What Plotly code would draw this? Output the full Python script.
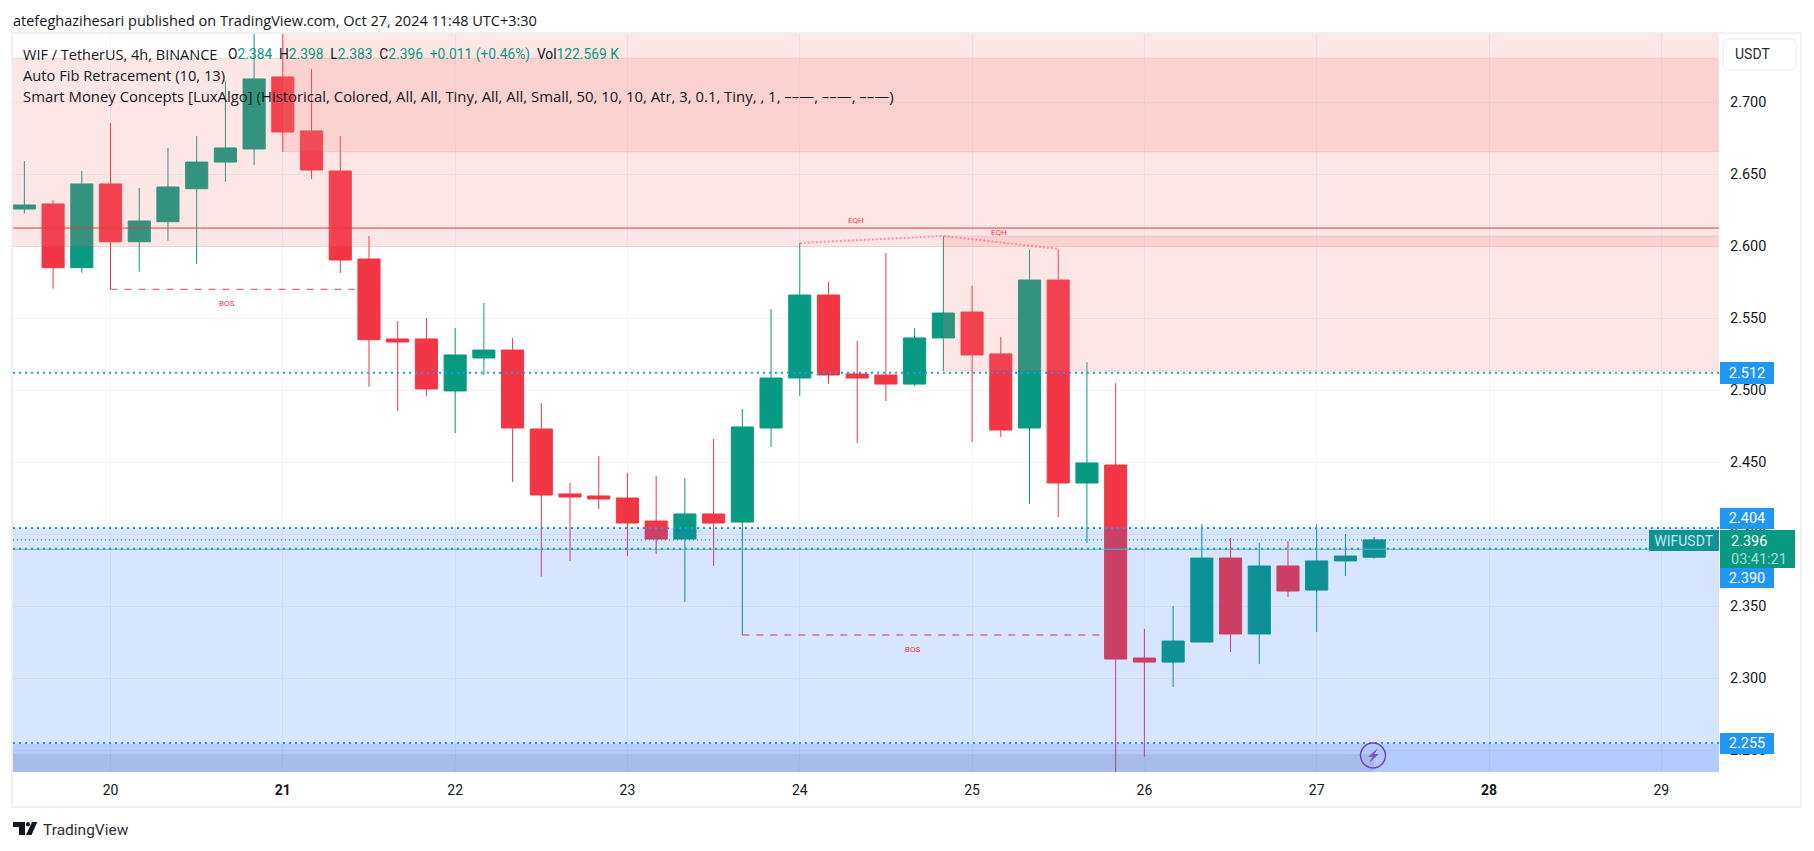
import pandas as pd
import plotly.graph_objects as go

# ---------- data ----------
first_bar = "2024-10-19 12:00"
opens = [2.6257,2.6292,2.585,2.6431,2.603,2.6169,2.6398,2.6583,2.6674,2.7174,2.6799,2.6521,
         2.591,2.5355,2.5355,2.4994,2.5223,2.5278,2.473,2.4279,2.4265,2.4251,2.4091,2.3966,
         2.414,2.4084,2.4737,2.5084,2.566,2.5112,2.5105,2.5042,2.5362,2.5542,2.5251,2.4737,
         2.5764,2.4355,2.448,2.314,2.3112,2.3251,2.3834,2.3307,2.3779,2.3612,2.3814,2.384]
highs = [2.659,2.632,2.6521,2.6854,2.6403,2.6681,2.6764,2.7141,2.76,2.76,2.7229,2.6764,
         2.607,2.548,2.55,2.5431,2.5605,2.5362,2.491,2.4355,2.4543,2.4425,2.4404,2.439,
         2.4661,2.4869,2.5563,2.6021,2.575,2.5341,2.5952,2.5431,2.607,2.5723,2.5369,2.5973,
         2.598,2.5195,2.5049,2.3342,2.3501,2.407,2.3973,2.3939,2.3952,2.407,2.4001,2.398]
lows = [2.6225,2.5704,2.5815,2.57,2.5822,2.6037,2.5875,2.6447,2.6563,2.6653,2.6465,2.5813,
        2.5024,2.4855,2.4959,2.4702,2.5105,2.4362,2.3705,2.3814,2.4175,2.3848,2.3862,2.3529,
        2.3779,2.33,2.4605,2.4959,2.5042,2.4633,2.4924,2.5028,2.5133,2.464,2.4674,2.4209,
        2.4119,2.3939,2.22,2.2455,2.2939,2.3251,2.3182,2.3099,2.3564,2.3321,2.3709,2.383]
closes = [2.6285,2.585,2.6431,2.603,2.6174,2.641,2.6583,2.6681,2.716,2.6792,2.6528,2.5903,
          2.535,2.5334,2.5008,2.5244,2.5278,2.4737,2.4272,2.4258,2.4244,2.4077,2.3966,2.414,
          2.4077,2.4744,2.5084,2.566,2.5105,2.5084,2.5042,2.5362,2.5535,2.5244,2.4723,2.5764,
          2.4355,2.4494,2.3133,2.3112,2.3258,2.3834,2.3307,2.3779,2.3605,2.3814,2.3848,2.396]
price_ticks = [2.25,2.30,2.35,2.40,2.45,2.50,2.55,2.60,2.65,2.70]
day_ticks = ["2024-10-%02d" % d for d in range(20,30)]
day_labels = ["20","<b>21</b>","22","23","24","25","26","27","<b>28</b>","29"]
premium_box = ("2024-10-19 00:00","2024-10-30 00:00",2.5997,2.7305)
ob_box = ("2024-10-21 00:00","2024-10-30 00:00",2.6655,2.80)
fvg_box = ("2024-10-24 20:00","2024-10-30 00:00",2.5133,2.607)
discount_box = ("2024-10-19 00:00","2024-10-30 00:00",2.20,2.4043)
deep_box = ("2024-10-19 00:00","2024-10-30 00:00",2.20,2.2545)
grey_box = ("2024-10-19 00:00","2024-10-27 08:00",2.20,2.2474)
fib_levels = [2.512,2.4043,2.3899,2.255]
red_level = 2.6125
green_level = 2.3895
last_price = 2.396
bos_lines = [("2024-10-20 00:00","2024-10-21 10:00",2.570),("2024-10-23 16:00","2024-10-25 18:00",2.33)]
eqh_x = ["2024-10-24 00:00","2024-10-24 20:00","2024-10-25 12:00"]
eqh_y = [2.6021,2.607,2.598]

# ---------- geometry ----------
W,H = 1814,851
L,R,T,B = 13,1719,34,772
def px(x): return (x-L)/(R-L)
def py(y): return (B-y)/(B-T)
GREEN,RED,BLUE = "#089981","#F23645","#2196F3"
TXT = "#131722"
FONT = "Roboto"
WIDE = "Open Sans"

times = pd.date_range(first_bar, periods=len(opens), freq="4h")
fig = go.Figure()
fig.add_trace(go.Candlestick(x=times,open=opens,high=highs,low=lows,close=closes,
    increasing=dict(line=dict(color=GREEN,width=1),fillcolor=GREEN),
    decreasing=dict(line=dict(color=RED,width=1),fillcolor=RED),
    whiskerwidth=0,hoverinfo="skip"))
fig.add_trace(go.Scatter(x=pd.to_datetime(eqh_x),y=eqh_y,mode="lines",
    line=dict(color="rgba(242,54,69,0.5)",width=2,dash="2px,2px"),hoverinfo="skip"))

shapes=[]
def add_box(b,color,border=None):
    shapes.append(dict(type="rect",xref="x",yref="y",x0=b[0],x1=b[1],y0=b[2],y1=b[3],
        fillcolor=color,line=dict(color=border or "rgba(0,0,0,0)",width=1),layer="above"))
def add_level(v,color,width,dash="solid"):
    shapes.append(dict(type="line",xref="paper",yref="y",x0=0,x1=1,y0=v,y1=v,
        line=dict(color=color,width=width,dash=dash),layer="above"))
for s in bos_lines:
    shapes.append(dict(type="line",xref="x",yref="y",x0=s[0],x1=s[1],y0=s[2],y1=s[2],
        line=dict(color=RED,width=1,dash="7px,7px"),layer="above"))
pink="rgba(245,121,121,0.19)"; pinkb="rgba(242,54,69,0.12)"
add_box(premium_box,pink,pinkb); add_box(ob_box,pink,pinkb); add_box(fvg_box,pink,pinkb)
add_box(discount_box,"rgba(33,110,255,0.18)")
add_box(deep_box,"rgba(41,98,255,0.2)")
add_box(grey_box,"rgba(120,123,134,0.18)")
add_level(red_level,"#E53935",1)
add_level(green_level,"#62B6A0",1)
add_level(last_price,"#089981",1.2,"1px,3px")
for v in fib_levels: add_level(v,BLUE,2,"2px,4px")
# frame, USDT button, TradingView logo, bolt
def poly(pts,fill,line=None,width=0):
    d="M"+" L".join("%.5f,%.5f"%(px(x),py(y)) for x,y in pts)+" Z"
    shapes.append(dict(type="path",xref="paper",yref="paper",path=d,fillcolor=fill,
        line=dict(color=line or fill,width=width),layer="above"))
shapes.append(dict(type="rect",xref="paper",yref="paper",x0=px(12),x1=px(1801),y0=py(807),y1=py(33),
    line=dict(color="#EFF0F5",width=2),fillcolor="rgba(0,0,0,0)",layer="below"))
shapes.append(dict(type="path",xref="paper",yref="paper",line=dict(color="#F0F3FA",width=2),
    fillcolor="#FFFFFF",layer="above",
    path="M%f,%f L%f,%f Q%f,%f %f,%f L%f,%f Q%f,%f %f,%f L%f,%f Q%f,%f %f,%f L%f,%f Q%f,%f %f,%f Z"%(
      px(1729),py(39),px(1790),py(39),px(1796),py(39),px(1796),py(45),
      px(1796),py(64),px(1796),py(70),px(1790),py(70),
      px(1729),py(70),px(1723),py(70),px(1723),py(64),
      px(1723),py(45),px(1723),py(39),px(1729),py(39))))
poly([(13,822),(25,822),(25,835),(19,835),(19,827),(13,827)],"#131722")
shapes.append(dict(type="circle",xref="paper",yref="paper",x0=px(26),x1=px(30),y0=py(826.5),y1=py(822),
    fillcolor="#131722",line=dict(width=0),layer="above"))
poly([(32,822),(37.3,822),(31.5,835),(26,835)],"#131722")
shapes.append(dict(type="circle",xref="paper",yref="paper",x0=px(1360.5),x1=px(1385.5),y0=py(768),y1=py(743),
    fillcolor="rgba(0,0,0,0)",line=dict(color="#6F3FC2",width=1.5),layer="above"))
poly([(1378,748),(1368,757),(1372.5,757),(1369,763),(1379,754),(1374.5,754)],"#7E57C2")

anns=[]
def text(x,y,t,size=14,color=TXT,anchor="left",family=FONT):
    anns.append(dict(xref="paper",yref="paper",x=px(x),y=py(y),text=t,showarrow=False,xanchor=anchor,yanchor="middle",
        font=dict(family=family,size=size,color=color),borderpad=0,borderwidth=0))
def badge(x0,x1,y0,y1,t,bg,fc,size=14.5):
    anns.append(dict(xref="paper",yref="paper",x=px(x0),y=py((y0+y1)/2),text=t,showarrow=False,xanchor="left",yanchor="middle",
        width=x1-x0,height=y1-y0,bgcolor=bg,align="center",valign="middle",
        font=dict(family=FONT,size=size,color=fc),borderpad=0,borderwidth=0))
text(13,20,"atefeghazihesari published on TradingView.com, Oct 27, 2024 11:48 UTC+3:30",14.5,TXT,"left",WIDE)
g=lambda s:'<span style="color:%s">%s</span>'%(GREEN,s)
text(23,54,"WIF / TetherUS, 4h, BINANCE",14.5,TXT,"left",WIDE)
text(228,54,"O"+g("2.384")+"  H"+g("2.398")+"  L"+g("2.383")+"  C"+g("2.396")+"  "+g("+0.011 (+0.46%)")+"  Vol"+g("122.569 K"),13.8)
text(23,75,"Auto Fib Retracement (10, 13)",14.7,TXT,"left",WIDE)
text(23,96,"Smart Money Concepts [LuxAlgo] (Historical, Colored, All, All, Tiny, All, All, Small, 50, 10, 10, Atr, 3, 0.1, Tiny, , 1, ––—, ––—, ––—)",14.9,TXT,"left",WIDE)
text(226,303,"BOS",8,RED,"center")
text(913,649,"BOS",8,RED,"center")
text(856,220,"EQH",8,RED,"center")
text(999,233,"EQH",8,RED,"center")
text(1735,54,"USDT",14,"#2A2E39")
badge(1720,1774,508,529,"2.404",BLUE,"#FFFFFF")
badge(1720,1774,362,384,"2.512",BLUE,"#FFFFFF")
badge(1720,1774,568,588,"2.390",BLUE,"#FFFFFF")
badge(1720,1774,733,754,"2.255",BLUE,"#FFFFFF")
badge(1649,1719,530,551,"WIFUSDT","#109196","#C5E8EA",14)
badge(1720,1795,530,568,"",GREEN,"#FFFFFF")
text(1731,541,"2.396",14.5,"#FFFFFF")
text(1731,559,"03:41:21",14.5,"#A8DCCF")
text(43,830,"TradingView",15.5,"#2A2E39")

fig.update_layout(width=W,height=H,margin=dict(l=L,r=W-R,t=T,b=H-B),
    paper_bgcolor="#FFFFFF",plot_bgcolor="#FFFFFF",showlegend=False,boxgap=0.23,boxgroupgap=0,
    shapes=shapes,annotations=anns,hovermode=False,dragmode=False,
    font=dict(family=FONT,color=TXT,size=14),
    xaxis=dict(type="date",range=["2024-10-19 10:25","2024-10-29 08:02"],tickmode="array",tickvals=day_ticks,ticktext=day_labels,
        showgrid=True,gridcolor="#F0F3FA",gridwidth=1,zeroline=False,showline=False,ticks="",
        tickfont=dict(family=FONT,size=14,color=TXT),ticklabelstandoff=8,rangeslider=dict(visible=False),fixedrange=True),
    yaxis=dict(side="right",range=[2.7-(B-102)/1440.5,2.7+(102-T)/1440.5],tickmode="array",tickvals=price_ticks,
        ticktext=["%.3f"%v for v in price_ticks],showgrid=True,gridcolor="#F0F3FA",gridwidth=1,zeroline=False,showline=False,ticks="",
        tickfont=dict(family=FONT,size=14.5,color=TXT),ticklabelstandoff=10,fixedrange=True))
fig.write_html("out.html",config=dict(displayModeBar=False),
    post_script="document.body.style.margin='0';document.body.style.overflow='hidden';")
